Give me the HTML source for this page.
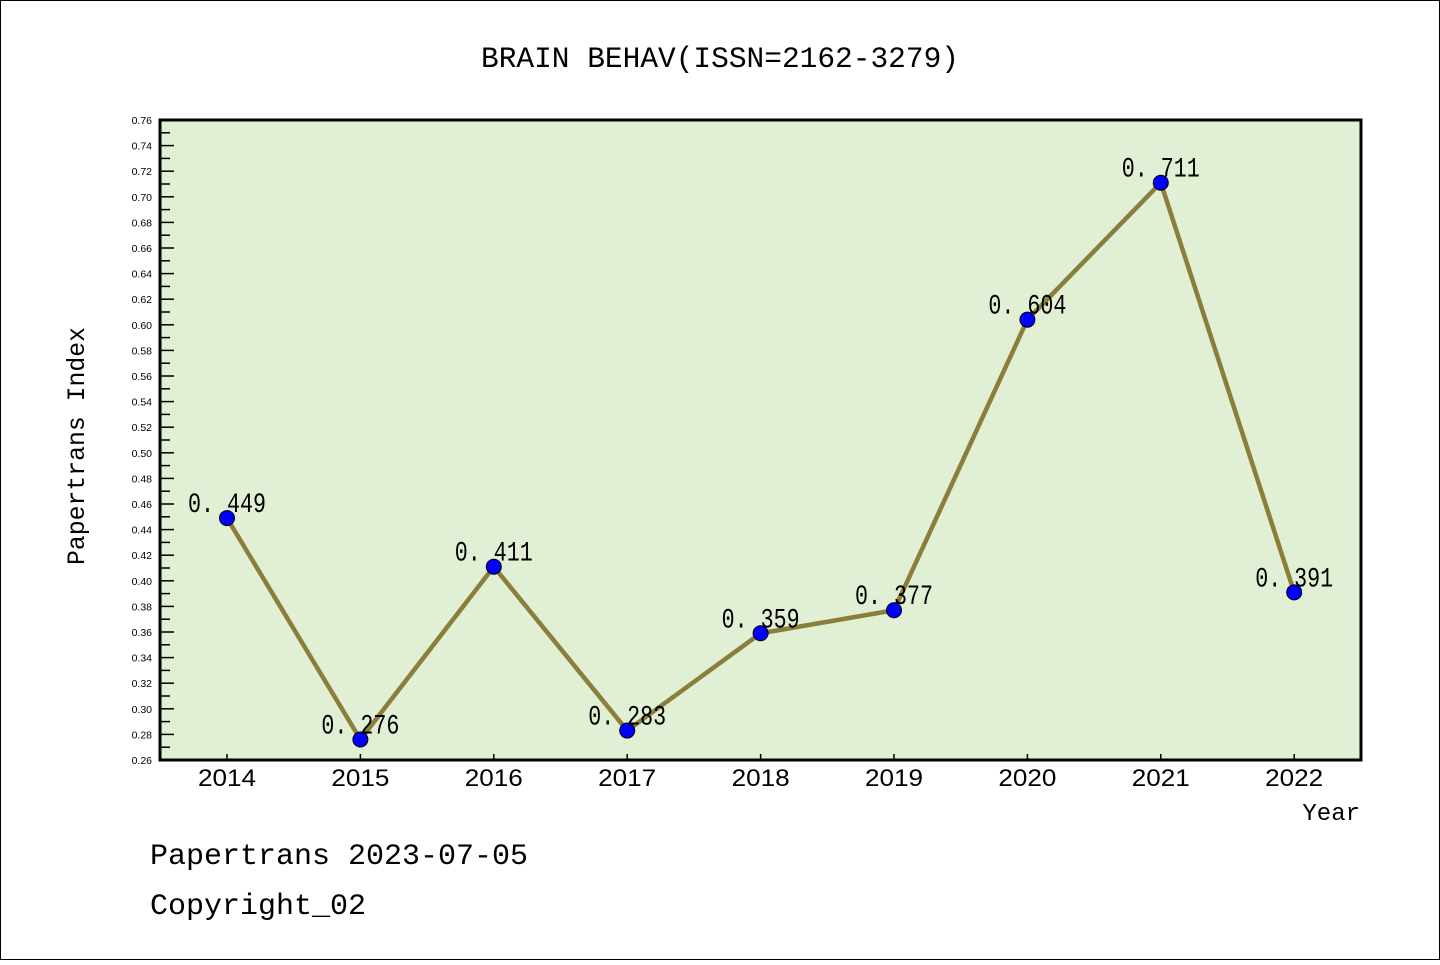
<!DOCTYPE html>
<html><head><meta charset="utf-8"><style>
body{margin:0;background:#fff}
.sans{font-family:"Liberation Sans","DejaVu Sans",sans-serif}
.mono{font-family:"Liberation Mono","DejaVu Sans Mono",monospace}
</style></head><body>
<svg id="chart" width="1440" height="960" xmlns="http://www.w3.org/2000/svg">
<rect x="0.5" y="0.5" width="1439" height="959" fill="#fff" stroke="#000"/>
<text class="mono" x="720" y="67" font-size="29.5" text-anchor="middle">BRAIN BEHAV(ISSN=2162-3279)</text>
<rect x="160" y="120" width="1201" height="640" fill="#e1efd5"/>
<g id="yticks"></g><g id="xticks"></g><g id="series"></g>
<rect x="160" y="120" width="1201" height="640" fill="none" stroke="#000" stroke-width="3"/>
<text class="mono" transform="translate(84,446) rotate(-90)" font-size="24.8" text-anchor="middle">Papertrans Index</text>
<text class="mono" x="1360" y="820" font-size="24" text-anchor="end">Year</text>
<text class="mono" x="150" y="864" font-size="30">Papertrans 2023-07-05</text>
<text class="mono" x="150" y="914" font-size="30">Copyright_02</text>
</svg>
<script>
const years=["2014","2015","2016","2017","2018","2019","2020","2021","2022"];
const values=[0.449,0.276,0.411,0.283,0.359,0.377,0.604,0.711,0.391];
const labels=["0.449","0.276","0.411","0.283","0.359","0.377","0.604","0.711","0.391"];
const yMin=0.26,yMax=0.76;
const NS="http://www.w3.org/2000/svg";
function y(v){return 760-(v-yMin)/(yMax-yMin)*640;}
function x(i){return 227+i*133.4;}
function mk(t,a,p){const e=document.createElementNS(NS,t);for(const k in a)e.setAttribute(k,a[k]);p.appendChild(e);return e;}
const yt=document.getElementById('yticks');
for(let k=0;k<=50;k++){const v=yMin+k*0.01;const yy=y(v);const major=k%2===0;
const l=mk('line',{x1:160,x2:major?174:170,y1:yy,y2:yy,stroke:'#000','stroke-width':1.5},yt);


if(major){const t=mk('text',{class:'sans',x:152,y:yy+4,'font-size':10.5,'text-anchor':'end'},yt);t.textContent=v.toFixed(2);

}}
const xt=document.getElementById('xticks');
years.forEach((yr,i)=>{const l=mk('line',{x1:x(i),x2:x(i),y1:760,y2:754,stroke:'#000','stroke-width':1.5},xt);


const t=mk('text',{class:'sans',x:x(i),y:786,'font-size':24,'text-anchor':'middle',textLength:58,lengthAdjust:'spacingAndGlyphs'},xt);t.textContent=yr;

});
const s=document.getElementById('series');
const pl=mk('polyline',{points:values.map((v,i)=>x(i)+','+y(v)).join(' '),fill:'none',stroke:'#8b7d3a','stroke-width':4.5,'stroke-linejoin':'round'},s);


values.forEach((v,i)=>{const c=mk('circle',{cx:x(i),cy:y(v),r:7.5,fill:'#0000ff',stroke:'#000','stroke-width':1},s);


const t=mk('text',{class:'mono',x:x(i),y:y(v)-6,'font-size':28,'text-anchor':'middle',textLength:78,lengthAdjust:'spacingAndGlyphs'},s);t.textContent=labels[i].replace('.','. ');

});
</script>
</body></html>
